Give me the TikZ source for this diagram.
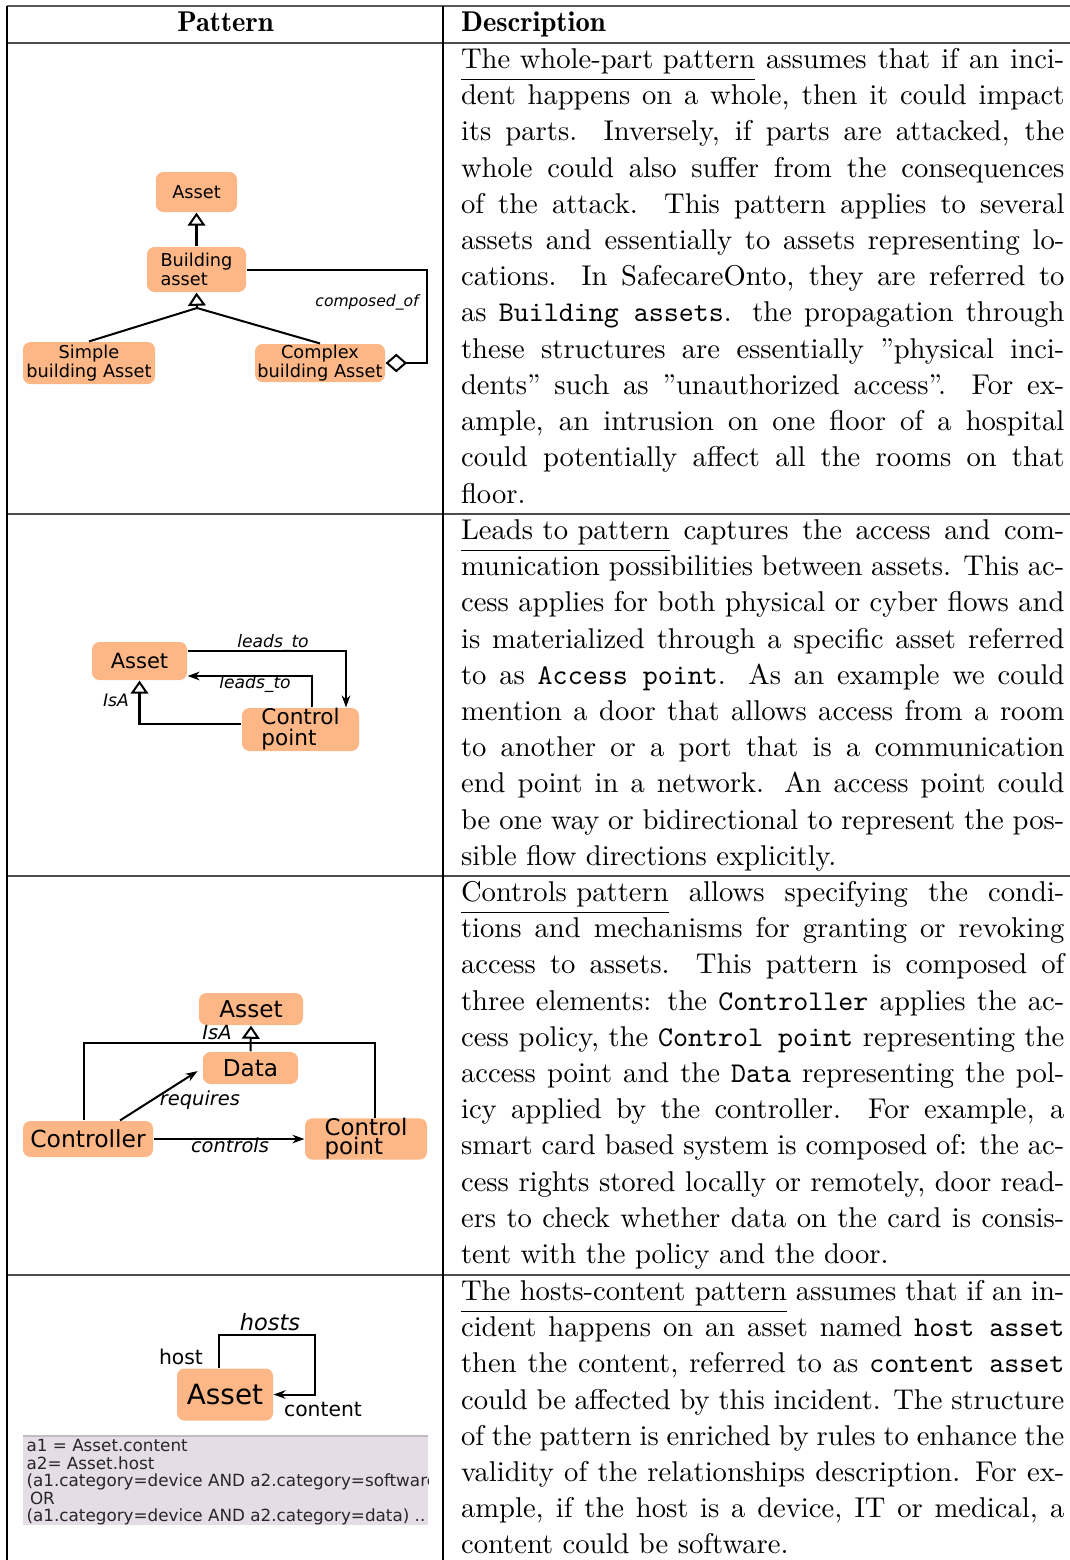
\documentclass[tikz,border=0pt]{standalone}
\usepackage{fontspec}
\newfontfamily\diafont{DejaVu Sans}
\usetikzlibrary{arrows.meta}
\definecolor{entfill}{RGB}{253,183,135}
\definecolor{rulefill}{RGB}{229,221,229}
\definecolor{ruleedge}{RGB}{196,186,196}
\def\px{0.3497pt}
\newcommand\dsize[2]{\diafont\fontsize{#1}{#2}\selectfont}
\newsavebox\patbox
\newcommand\patname[1]{\sbox\patbox{#1}\rlap{\smash{\rule[-4pt]{\wd\patbox}{0.45pt}}}\usebox\patbox}
\begin{document}
\begin{tikzpicture}[x=\px,y=-\px,
  ent/.style={fill=entfill,rounded corners=2.6pt,inner sep=0pt},
  rel/.style={line width=0.7pt},
  isa/.style={rel,-{Triangle[open,length=4.6pt,width=6.2pt]}},
  flow/.style={rel,-{Stealth[length=4.2pt,width=3pt]}},
  desc/.style={anchor=north west,inner sep=0pt,text width=211pt,align=justify,
    font={\fontsize{10}{12.66}\selectfont},
    execute at begin node={\hyphenpenalty=10000\exhyphenpenalty=10000\tolerance=10000}}]
  \useasboundingbox (0,0) rectangle (1070,1560);
  % table
  \draw[line width=0.6pt,black!65] (7,6) -- (1070,6);
  \foreach \y in {43,514,876,1275} \draw[line width=0.5pt,black!70] (7,\y) -- (1070,\y);
  \draw[line width=0.5pt] (7,6) -- (7,1560);
  \draw[line width=0.5pt] (443,6) -- (443,1560);
  \node[anchor=base,inner sep=0pt,font=\fontseries{b}\selectfont] (hpat) at (225.5,31) {Pattern};
  \node[anchor=base west,inner sep=0pt,font=\fontseries{b}\selectfont] (hdesc) at (460.5,31) {Description};

  % whole-part
  \node[ent,minimum width=81*\px,minimum height=40*\px,font={\dsize{6.2}{6.7}}] (a1) at (196.5,192) {Asset};
  \node[ent,minimum width=99*\px,minimum height=45*\px,align=left,font={\dsize{6.2}{6.7}}] (b1) at (196.5,269.5) {Building\\asset};
  \node[ent,minimum width=132*\px,minimum height=42*\px,align=center,font={\dsize{6.2}{6.7}}] (s1) at (89,363) {Simple\\building Asset};
  \node[ent,minimum width=130*\px,minimum height=38*\px,align=center,font={\dsize{6.2}{6.7}}] (c1) at (320,363) {Complex\\building Asset};
  \coordinate (j1) at (197,308);
  \draw[isa] (b1.north) -- (a1.south);
  \draw[rel] (s1.north) -- (j1) -- (c1.north);
  \draw[isa] (j1) -- (b1.south);
  \draw[rel,-{Diamond[open,length=7.5pt,width=6.5pt]}] (b1.east) -| (427,363) -- (c1.east);
  \node[font={\dsize{5.45}{6}\itshape}] (cmp) at (367,302) {composed\_of};

  % leads to
  \node[ent,minimum width=95*\px,minimum height=38*\px,font={\dsize{7.35}{7.8}}] (a2) at (139.5,661) {Asset};
  \node[ent,minimum width=117*\px,minimum height=43*\px,align=left,font={\dsize{7.55}{7.35}}] (p2) at (300.5,729.5) {Control\\point};
  \draw[flow] (a2.east |- 0,651) -| (346,0 |- p2.north);
  \node[font={\dsize{6}{6.5}\itshape}] (lt1) at (273,643) {leads\_to};
  \draw[flow] (312,0 |- p2.north) |- (a2.east |- 0,676);
  \node[font={\dsize{6}{6.5}\itshape}] (lt2) at (255,684) {leads\_to};
  \draw[isa] (p2.west |- 0,724) -| (a2.south);
  \node[font={\dsize{6}{6.5}\itshape}] (isa2) at (116,700) {IsA};

  % controls
  \node[ent,minimum width=104*\px,minimum height=32*\px,font={\dsize{8.1}{8.5}}] (a3) at (251,1009) {Asset};
  \node[ent,minimum width=95*\px,minimum height=32*\px,font={\dsize{8.1}{8.5}}] (d3) at (250.5,1068) {Data};
  \node[ent,minimum width=130*\px,minimum height=36*\px,font={\dsize{8.2}{8.5}}] (r3) at (88,1139) {Controller};
  \node[ent,minimum width=122*\px,minimum height=38*\px,align=left,font={\dsize{8}{6.7}}] (q3) at (366,1139) {Control\\point};
  \draw[isa] (d3.north) -- (a3.south);
  \node[font={\dsize{6.8}{7.2}\itshape}] (isa3) at (217,1033) {IsA};
  \draw[rel] (84,0 |- r3.north) |- (375,1043) -- (375,0 |- q3.north);
  \draw[flow,shorten >=2pt] (120,0 |- r3.north) -- (d3.west);
  \node[font={\dsize{6.8}{7.2}\itshape}] (req) at (200,1100) {requires};
  \draw[flow] (r3.east) -- (q3.west);
  \node[font={\dsize{6.8}{7.2}\itshape}] (ctl) at (230,1145) {controls};

  % hosts-content
  \node[ent,minimum width=96*\px,minimum height=52*\px,font={\dsize{9.75}{10}}] (a4) at (225,1394.5) {Asset};
  \draw[flow] (219,0 |- a4.north) |- (315,1335) |- (a4.east);
  \node[font={\dsize{7.85}{8}\itshape}] (hosts) at (270,1322) {hosts};
  \node[font={\dsize{7.1}{7.5}}] (host) at (181,1357) {host};
  \node[font={\dsize{7.1}{7.5}}] (cnt) at (323,1409) {content};
  \fill[rulefill] (23,1436) rectangle (428,1525);
  \draw[ruleedge,line width=0.5pt] (23,1436) -- (428,1436);
  \begin{scope}
    \clip (23,1436) rectangle (428,1525);
    \node[anchor=north west,inner sep=0pt,align=left,text=black!85,font={\dsize{5.87}{6.12}}] (rule4) at (26,1439)
      {a1 = Asset.content\\a2= Asset.host\\(a1.category=device AND a2.category=software\\\hspace{1.2pt}OR\\(a1.category=device AND a2.category=data) ..};
  \end{scope}

  % descriptions
  \node[desc] (t1) at (460.5,43) {\rule{0pt}{8.74pt}\patname{The whole-part pattern} assumes that if an inci-\linebreak
    dent happens on a whole, then it could impact\linebreak
    its parts. Inversely, if parts are attacked, the\linebreak
    whole could also suffer from the consequences\linebreak
    of the attack. This pattern applies to several\linebreak
    assets and essentially to assets representing lo-\linebreak
    cations. In SafecareOnto, they are referred to\linebreak
    as \texttt{Building assets}. the propagation through\linebreak
    these structures are essentially ''physical inci-\linebreak
    dents'' such as ''unauthorized access''. For ex-\linebreak
    ample, an intrusion on one floor of a hospital\linebreak
    could potentially affect all the rooms on that\linebreak
    floor.};
  \node[desc] (t2) at (460.5,514) {\rule{0pt}{8.74pt}\patname{Leads to pattern} captures the access and com-\linebreak
    munication possibilities between assets. This ac-\linebreak
    cess applies for both physical or cyber flows and\linebreak
    is materialized through a specific asset referred\linebreak
    to as \texttt{Access point}. As an example we could\linebreak
    mention a door that allows access from a room\linebreak
    to another or a port that is a communication\linebreak
    end point in a network. An access point could\linebreak
    be one way or bidirectional to represent the pos-\linebreak
    sible flow directions explicitly.};
  \node[desc] (t3) at (460.5,876) {\rule{0pt}{8.74pt}\patname{Controls pattern} allows specifying the condi-\linebreak
    tions and mechanisms for granting or revoking\linebreak
    access to assets. This pattern is composed of\linebreak
    three elements: the \texttt{Controller} applies the ac-\linebreak
    cess policy, the \texttt{Control point} representing the\linebreak
    access point and the \texttt{Data} representing the pol-\linebreak
    icy applied by the controller. For example, a\linebreak
    smart card based system is composed of: the ac-\linebreak
    cess rights stored locally or remotely, door read-\linebreak
    ers to check whether data on the card is consis-\linebreak
    tent with the policy and the door.};
  \node[desc] (t4) at (460.5,1275) {\rule{0pt}{8.74pt}\patname{The hosts-content pattern} assumes that if an in-\linebreak
    cident happens on an asset named \texttt{host asset}\linebreak
    then the content, referred to as \texttt{content asset}\linebreak
    could be affected by this incident. The structure\linebreak
    of the pattern is enriched by rules to enhance the\linebreak
    validity of the relationships description. For ex-\linebreak
    ample, if the host is a device, IT or medical, a\linebreak
    content could be software.};
\end{tikzpicture}
\end{document}
